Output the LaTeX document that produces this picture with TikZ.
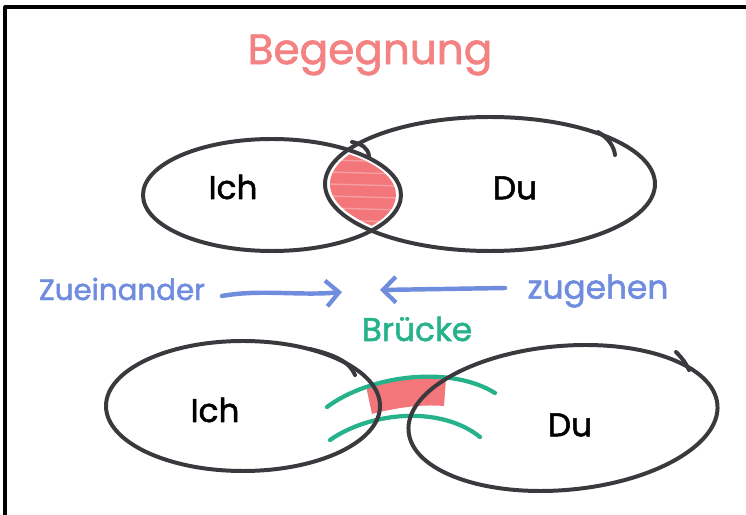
\documentclass[tikz,border=0pt]{standalone}
\usepackage{fontspec}
\setmainfont{Poppins}[AutoFakeBold=1.6]
\usetikzlibrary{arrows.meta}
\definecolor{ink}{RGB}{58,58,62}
\definecolor{salmon}{RGB}{244,130,130}
\definecolor{marker}{RGB}{242,118,122}
\definecolor{penblue}{RGB}{112,140,222}
\definecolor{pengreen}{RGB}{38,178,138}
\begin{document}
\begin{tikzpicture}[x=0.03cm,y=-0.03cm,line cap=round,line join=round,
  outline/.style={draw=ink,line width=3.4pt},
  bridge/.style={draw=pengreen,line width=3.6pt},
  pointer/.style={draw=penblue,line width=3.8pt,-{Straight Barb[length=11pt,width=22pt,line width=3.6pt]}},
  word/.style={font=\fontsize{28}{32}\selectfont\bfseries},
  bluetext/.style={text=penblue,font=\fontsize{25}{30}\selectfont\bfseries}]
\useasboundingbox (0,0) rectangle (746,515);
\fill[white] (0,0) rectangle (746,515);
% frame edges
\draw[black,line width=2.6pt,line cap=butt] (5,520) -- (5,7) -- (750,7);

% title
\node[text=salmon,font=\fontsize{36}{40}\selectfont\bfseries] (title) at (370,55) {Begegnung};

% ---- meeting: overlapping ellipses ----
\begin{scope}
  \clip (272,195) ellipse [x radius=124,y radius=52];
  \fill[marker] (490,184) ellipse [x radius=160,y radius=62];
  \foreach \yy in {160,172,184,196,208,220,232}
    \draw[white,opacity=0.3,line width=1.2pt] (330,\yy) -- (400,\yy+2);
\end{scope}
\draw[outline] (272,195) ellipse [x radius=129,y radius=56];
\draw[outline] (490,184) ellipse [x radius=165,y radius=67];
\draw[outline] (598,132) .. controls (608,138) and (614,146) .. (615,155);
\draw[outline] (352,142) .. controls (362,144) and (368,148) .. (369,156);
\node[word] (ich1) at (233,187) {Ich};
\node[word] (du1) at (515,188) {Du};

% ---- moving towards each other ----
\node[bluetext] (zu) at (122,289) {Zueinander};
\node[bluetext,font=\fontsize{28}{32}\selectfont\bfseries] (geh) at (598,291) {zugehen};
\coordinate (r0) at (222,296);
\coordinate (r1) at (342,292);
\coordinate (l0) at (505,288);
\coordinate (l1) at (380,290);
\draw[pointer] (r0) .. controls (260,289) and (300,296) .. (r1);
\draw[pointer] (l0) -- (l1);

% ---- bridge ----
\node[text=pengreen,font=\fontsize{28}{32}\selectfont\bfseries] (bruecke) at (417,329) {Brücke};
\fill[marker] (366,386) .. controls (395,378) and (420,376) .. (446,378)
  -- (444,406) .. controls (420,404) and (395,408) .. (372,414) -- cycle;
\draw[bridge] (327,407) .. controls (370,375) and (450,365) .. (495,393);
\draw[bridge] (330,440) .. controls (370,412) and (440,405) .. (480,437);

\draw[outline] (243,406) ellipse [x radius=137,y radius=65];
\draw[outline] (310,349) .. controls (335,355) and (350,362) .. (355,375);
\draw[outline,rotate around={5:(563,418)}] (563,418) ellipse [x radius=155,y radius=72];
\draw[outline] (676,352) .. controls (682,358) and (686,363) .. (689,370);
\node[word] (ich2) at (215,410) {Ich};
\node[word] (du2) at (570,425) {Du};
\end{tikzpicture}
\end{document}
